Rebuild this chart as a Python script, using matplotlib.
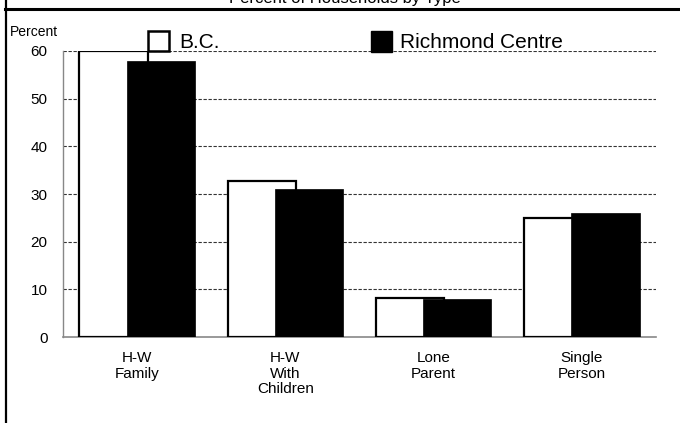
import matplotlib
matplotlib.use("Agg")
import matplotlib.pyplot as plt
from matplotlib.patches import Rectangle
from matplotlib.lines import Line2D
import numpy as np

plt.rcParams['font.family'] = ['Liberation Sans', 'DejaVu Sans']

categories = ["H-W\nFamily", "H-W\nWith\nChildren", "Lone\nParent", "Single\nPerson"]
bc_values = [60.0, 32.7, 8.1, 25.0]
richmond_values = [58.0, 31.0, 7.9, 26.0]
series_names = ["B.C.", "Richmond Centre"]
yticks = [0, 10, 20, 30, 40, 50, 60]
title = "Percent of Households by Type"

W, H = 680, 423
fig = plt.figure(figsize=(6.8, 4.23), dpi=100)

def fx(px):
    return px / W

def fy(py):
    return 1 - py / H

ax = fig.add_axes([fx(63), fy(337), fx(656) - fx(63), fy(51) - fy(337)])

x = np.arange(len(categories))
width = 0.46
off = 0.159
ax.bar(x - off, bc_values, width, color="white", edgecolor="black", linewidth=1.6, zorder=3)
ax.bar(x + off, richmond_values, width, color="black", edgecolor="black", linewidth=0.5, zorder=4)

ax.set_xlim(-0.5, len(categories) - 0.5)
ax.set_ylim(0, 60)
ax.set_yticks(yticks)
ax.set_xticks(x)
ax.set_xticklabels(categories, fontsize=11, linespacing=1.15)
ax.tick_params(axis='both', length=0)
ax.tick_params(axis='y', pad=11, labelsize=11)
ax.tick_params(axis='x', pad=10)
for t in yticks[1:]:
    ax.axhline(t, color="#333333", linestyle=(0, (3, 1.5)), linewidth=0.8, zorder=1)
for s in ["top", "right"]:
    ax.spines[s].set_visible(False)
ax.spines["left"].set_color("#888888")
ax.spines["left"].set_linewidth(1.0)
ax.spines["bottom"].set_color("#888888")
ax.spines["bottom"].set_linewidth(1.2)

# Frame lines
fig.add_artist(Line2D([fx(6), fx(6)], [0, 1], color="black", linewidth=1.6, transform=fig.transFigure))
fig.add_artist(Line2D([fx(5), 1], [fy(9), fy(9)], color="black", linewidth=2.2, transform=fig.transFigure))

# Title (partially cut off at the top, as in the reference)
fig.text(fx(345), fy(3), title, ha="center", va="baseline", fontsize=12)

# Percent label
fig.text(fx(10), fy(32), "Percent", ha="left", va="center", fontsize=10)

# Legend
fig.add_artist(Rectangle((fx(148), fy(51)), fx(21), fy(31) - fy(51), facecolor="white",
                         edgecolor="black", linewidth=1.8, transform=fig.transFigure, zorder=10))
fig.text(fx(179), fy(42), series_names[0], ha="left", va="center", fontsize=15, zorder=10)
fig.add_artist(Rectangle((fx(371), fy(52)), fx(21), fy(31) - fy(52), facecolor="black",
                         edgecolor="black", linewidth=1.0, transform=fig.transFigure, zorder=10))
fig.text(fx(400), fy(42), series_names[1], ha="left", va="center", fontsize=15, zorder=10)

fig.savefig("out.png", dpi=100)
